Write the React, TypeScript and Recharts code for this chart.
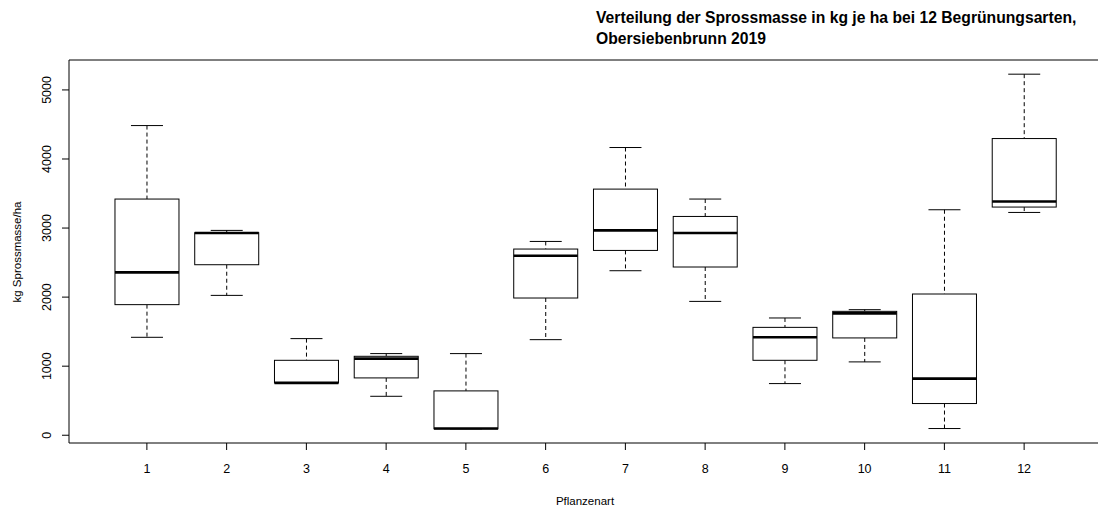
import { ComposedChart, Bar, XAxis, YAxis, ReferenceLine } from 'recharts';

// Pflanzenart 1..12, kg Sprossmasse/ha
const categories = ['1', '2', '3', '4', '5', '6', '7', '8', '9', '10', '11', '12'];
const whiskerLow = [1418, 2025, 758, 564, 93, 1384, 2382, 1938, 748, 1062, 97, 3226];
const q1 = [1891, 2469, 758, 830, 93, 1987, 2676, 2436, 1085, 1409, 459, 3304];
const medians = [2358, 2928, 758, 1110, 97, 2599, 2966, 2928, 1418, 1765, 820, 3385];
const q3 = [3420, 2932, 1085, 1143, 642, 2696, 3564, 3168, 1562, 1794, 2045, 4296];
const whiskerHigh = [4484, 2966, 1399, 1182, 1182, 2806, 4166, 3420, 1698, 1818, 3265, 5228];
const yTicks = [0, 1000, 2000, 3000, 4000, 5000];

const FONT = '"Liberation Sans", Arial, Helvetica, sans-serif';

const data = categories.map((name, i) => ({
  name,
  low: whiskerLow[i],
  q1: q1[i],
  median: medians[i],
  q3: q3[i],
  high: whiskerHigh[i],
}));

// R style ylim: data range stretched by 4% on both sides
const yMin = Math.min(...whiskerLow);
const yMax = Math.max(...whiskerHigh);
const yPad = (yMax - yMin) * 0.04;
const yDomain: [number, number] = [yMin - yPad, yMax + yPad];

function BoxShape(props: any) {
  const { x, y, width, height, payload } = props;
  const top = Math.min(y, y + height);
  const bottom = Math.max(y, y + height);
  const span = payload.high - payload.low;
  const py = (v: number) => (span === 0 ? bottom : bottom - ((v - payload.low) / span) * (bottom - top));
  const cx = x + width / 2;
  const cap = width / 4;
  const yq1 = py(payload.q1);
  const yq3 = py(payload.q3);
  const ymed = py(payload.median);
  return (
    <g>
      <line x1={cx} x2={cx} y1={top} y2={yq3} stroke="#000" strokeDasharray="4 3" />
      <line x1={cx} x2={cx} y1={yq1} y2={bottom} stroke="#000" strokeDasharray="4 3" />
      <line x1={cx - cap} x2={cx + cap} y1={top} y2={top} stroke="#000" />
      <line x1={cx - cap} x2={cx + cap} y1={bottom} y2={bottom} stroke="#000" />
      <rect x={x} y={yq3} width={width} height={yq1 - yq3} fill="#fff" stroke="#000" />
      <line x1={x} x2={x + width} y1={ymed} y2={ymed} stroke="#000" strokeWidth={2.6} />
    </g>
  );
}

function YTick(props: any) {
  const { x, y, payload } = props;
  return (
    <text
      x={x}
      y={y}
      transform={`rotate(-90 ${x} ${y})`}
      textAnchor="middle"
      fill="#000"
      fontSize={12.5}
      fontFamily={FONT}
    >
      {payload.value}
    </text>
  );
}

export default function App() {
  return (
    <div style={{ position: 'absolute', left: 0, top: 0, width: 1098, height: 508, overflow: 'hidden', background: '#fff' }}>
      <ComposedChart
        width={1110}
        height={508}
        data={data}
        margin={{ top: 60, right: 8, left: 0, bottom: 29 }}
        barCategoryGap="10%"
      >
        <XAxis
          dataKey="name"
          height={36}
          padding={{ left: 38, right: 38 }}
          tickSize={7}
          tickMargin={14}
          axisLine={{ stroke: '#000' }}
          tickLine={{ stroke: '#000' }}
          tick={{ fill: '#000', fontSize: 12.5, fontFamily: FONT }}
          interval={0}
        />
        <YAxis
          type="number"
          domain={yDomain}
          ticks={yTicks}
          allowDataOverflow
          width={69}
          tickSize={7}
          tickMargin={11}
          axisLine={{ stroke: '#000' }}
          tickLine={{ stroke: '#000' }}
          tick={<YTick />}
        />
        <ReferenceLine y={yDomain[1]} stroke="#000" />
        <Bar
          dataKey={(d: any) => [d.low, d.high]}
          shape={(p: any) => <BoxShape {...p} />}
          isAnimationActive={false}
        />
      </ComposedChart>
      <svg
        width={1098}
        height={508}
        style={{ position: 'absolute', left: 0, top: 0, pointerEvents: 'none' }}
      >
        <text x={596} y={22.5} fontSize={15.7} fontWeight="bold" fontFamily={FONT} fill="#000">
          Verteilung der Sprossmasse in kg je ha bei 12 Begrünungsarten,
        </text>
        <text x={596} y={43.5} fontSize={15.7} fontWeight="bold" fontFamily={FONT} fill="#000">
          Obersiebenbrunn 2019
        </text>
        <text
          x={21}
          y={252}
          transform="rotate(-90 21 252)"
          textAnchor="middle"
          fontSize={11.5}
          fontFamily={FONT}
          fill="#000"
        >
          kg Sprossmasse/ha
        </text>
        <text x={585} y={505} textAnchor="middle" fontSize={11.5} fontFamily={FONT} fill="#000">
          Pflanzenart
        </text>
      </svg>
    </div>
  );
}
